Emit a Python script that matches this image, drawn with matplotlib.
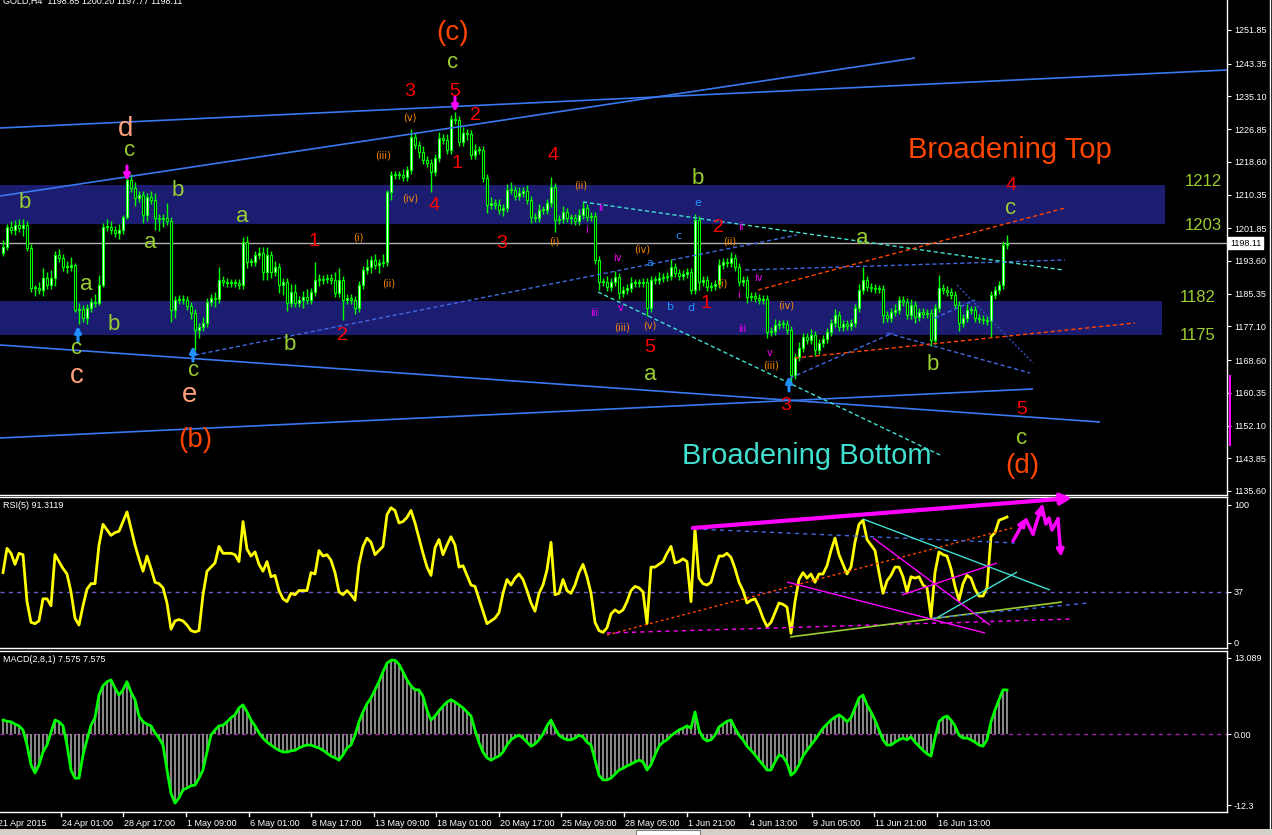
import matplotlib
matplotlib.use('Agg')
import matplotlib.pyplot as plt
from matplotlib.patches import Rectangle
from matplotlib.lines import Line2D
import matplotlib.transforms as mtransforms

# ---------------- data ----------------
first_open = 1195.6
closes = [
 1197.1, 1202.2, 1201.4, 1202.7, 1201.9, 1202.7, 1196.9, 1186.8, 1186.8, 1186.3,
 1189.3, 1187.5, 1189.3, 1195.1, 1194.4, 1192.1, 1192.1, 1192.6, 1181.2, 1181.5,
 1179.2, 1181.8, 1183.3, 1183.0, 1187.5, 1202.2, 1202.2, 1201.4, 1200.7, 1201.4,
 1204.7, 1214.0, 1212.0, 1209.5, 1210.2, 1205.2, 1209.7, 1209.0, 1204.4, 1204.2,
 1204.4, 1203.7, 1181.2, 1183.8, 1184.0, 1183.8, 1182.3, 1180.5, 1176.2, 1177.0,
 1178.0, 1183.3, 1184.3, 1184.0, 1188.8, 1188.3, 1188.1, 1188.1, 1188.1, 1187.5,
 1198.4, 1193.3, 1193.3, 1195.1, 1195.6, 1190.8, 1195.1, 1190.8, 1192.1, 1187.5,
 1188.3, 1183.0, 1185.8, 1183.0, 1183.8, 1184.5, 1183.8, 1185.8, 1188.8, 1188.8,
 1189.1, 1189.3, 1188.8, 1185.5, 1188.8, 1183.8, 1184.3, 1183.8, 1181.8, 1187.5,
 1191.3, 1192.1, 1193.9, 1192.6, 1193.1, 1193.3, 1211.0, 1215.3, 1215.3, 1215.3,
 1214.8, 1216.5, 1224.9, 1222.8, 1221.1, 1219.1, 1218.3, 1216.0, 1219.6, 1224.6,
 1224.1, 1221.6, 1229.4, 1229.1, 1223.6, 1225.9, 1225.6, 1220.3, 1221.6, 1221.6,
 1214.5, 1207.7, 1208.2, 1207.7, 1206.5, 1207.0, 1211.5, 1211.5, 1210.0, 1210.7,
 1211.3, 1209.0, 1204.7, 1204.4, 1206.5, 1206.5, 1208.2, 1212.3, 1203.9, 1204.2,
 1205.9, 1204.4, 1204.4, 1203.7, 1205.2, 1207.0, 1204.7, 1204.9, 1193.9, 1188.3,
 1188.3, 1187.0, 1188.3, 1189.6, 1185.5, 1186.3, 1186.8, 1188.1, 1188.1, 1188.1,
 1188.3, 1181.8, 1188.8, 1188.8, 1189.3, 1189.6, 1189.8, 1192.1, 1190.6, 1189.8,
 1190.3, 1190.8, 1186.3, 1203.9, 1188.3, 1188.8, 1187.0, 1187.3, 1187.8, 1192.6,
 1193.3, 1193.1, 1194.4, 1192.1, 1188.3, 1188.8, 1184.5, 1184.8, 1184.3, 1183.8,
 1184.0, 1175.7, 1175.9, 1177.5, 1177.7, 1177.7, 1176.2, 1164.9, 1169.4, 1171.7,
 1174.4, 1173.7, 1174.9, 1171.2, 1172.9, 1173.9, 1175.7, 1178.0, 1180.0, 1177.0,
 1177.7, 1177.2, 1178.0, 1181.8, 1186.3, 1188.8, 1187.0, 1186.8, 1186.5, 1186.5,
 1180.0, 1179.2, 1180.7, 1181.2, 1183.8, 1183.3, 1180.0, 1182.5, 1179.5, 1180.7,
 1180.2, 1180.5, 1173.7, 1181.8, 1186.8, 1186.3, 1185.8, 1185.0, 1182.5, 1178.0,
 1179.2, 1181.2, 1181.2, 1179.2, 1179.0, 1178.7, 1178.5, 1185.0, 1186.3, 1187.5,
 1197.6, 1198.11]
wick_up = [
 1.7, 0.8, 1.5, 1.2, 1.5, 1.5, 1.0, 1.0, 0.8, 1.5,
 2.5, 1.5, 2.0, 1.0, 1.5, 1.0, 1.5, 2.0, 0.5, 1.5,
 1.0, 1.0, 1.0, 2.0, 2.5, 1.0, 2.0, 1.5, 1.0, 1.5,
 0.5, 2.0, 1.5, 1.5, 1.0, 1.0, 1.0, 1.5, 1.8, 1.0,
 1.0, 3.8, 1.0, 1.0, 1.0, 1.0, 1.0, 1.0, 1.0, 1.0,
 1.5, 1.0, 1.0, 1.5, 3.3, 1.0, 1.0, 1.0, 1.0, 1.0,
 1.3, 1.5, 1.0, 1.0, 1.5, 1.5, 2.0, 1.0, 1.5, 1.0,
 1.0, 1.0, 2.0, 2.0, 1.0, 1.5, 2.0, 1.0, 4.5, 1.5,
 1.0, 1.0, 1.0, 2.0, 3.0, 1.0, 1.0, 1.0, 1.0, 1.0,
 1.0, 2.0, 1.0, 1.5, 1.0, 2.0, 0.5, 1.0, 1.0, 1.0,
 1.5, 1.0, 2.0, 1.0, 1.0, 1.5, 1.0, 1.0, 1.0, 1.5,
 1.0, 1.5, 1.0, 1.8, 1.0, 1.5, 1.0, 1.0, 1.5, 1.0,
 1.0, 1.0, 1.5, 1.0, 1.5, 1.0, 1.5, 2.0, 1.0, 1.5,
 1.0, 1.5, 1.0, 1.0, 1.5, 1.0, 1.0, 2.5, 1.0, 1.0,
 1.5, 1.0, 1.0, 1.0, 1.5, 1.5, 1.0, 1.0, 1.0, 1.0,
 1.0, 1.5, 1.0, 1.5, 1.0, 1.0, 1.0, 1.5, 1.0, 1.0,
 1.0, 1.0, 1.0, 1.0, 1.5, 1.0, 1.0, 2.0, 1.0, 1.0,
 1.0, 1.0, 1.0, 1.5, 1.0, 1.0, 1.0, 1.0, 1.0, 1.5,
 1.0, 1.0, 1.5, 1.0, 1.0, 1.0, 1.0, 1.0, 1.0, 1.0,
 1.0, 1.0, 1.0, 1.5, 1.0, 1.0, 1.0, 1.0, 1.0, 1.5,
 1.0, 1.0, 1.5, 1.0, 1.0, 1.0, 1.0, 1.0, 1.5, 1.0,
 1.0, 1.0, 1.0, 1.0, 1.5, 3.3, 1.0, 1.0, 1.0, 1.0,
 1.0, 1.0, 1.0, 1.5, 1.0, 1.0, 1.0, 1.5, 1.0, 1.0,
 1.0, 1.0, 1.0, 1.0, 3.3, 1.0, 1.0, 1.0, 1.0, 1.0,
 1.0, 1.5, 1.0, 1.0, 1.0, 1.0, 1.0, 1.0, 1.0, 1.0,
 1.0, 2.0]
wick_dn = [
 0.8, 0.8, 1.0, 1.2, 1.0, 2.0, 0.8, 1.0, 2.0, 1.0,
 1.5, 1.0, 1.0, 2.0, 1.0, 1.0, 1.5, 1.0, 0.5, 3.5,
 1.0, 1.5, 1.0, 1.0, 0.5, 0.5, 1.0, 1.0, 1.0, 1.5,
 1.0, 0.5, 1.0, 2.0, 1.0, 2.0, 1.5, 1.0, 3.0, 3.0,
 2.0, 1.0, 3.0, 2.0, 1.0, 1.0, 1.0, 1.5, 5.0, 2.0,
 1.0, 1.0, 1.0, 2.0, 1.0, 1.0, 1.0, 1.0, 1.0, 1.0,
 1.0, 1.5, 1.0, 1.0, 1.0, 2.0, 2.0, 1.5, 1.0, 2.0,
 2.5, 2.0, 1.0, 1.0, 1.0, 2.0, 1.0, 1.0, 1.0, 1.5,
 1.0, 1.0, 1.0, 1.0, 1.0, 5.0, 1.0, 1.0, 1.5, 1.0,
 1.0, 1.0, 1.5, 1.0, 2.0, 1.0, 1.0, 2.0, 1.0, 1.0,
 1.0, 1.0, 1.0, 1.0, 1.5, 1.0, 1.0, 5.0, 1.0, 1.0,
 1.0, 1.0, 1.0, 1.0, 1.0, 1.0, 1.5, 1.0, 1.0, 1.0,
 1.0, 2.0, 1.0, 1.0, 1.0, 1.5, 1.0, 1.0, 1.0, 1.0,
 1.0, 1.0, 1.5, 1.0, 1.0, 1.0, 1.0, 1.0, 3.0, 1.0,
 1.0, 1.0, 1.5, 1.0, 1.0, 1.0, 1.0, 1.0, 1.0, 2.0,
 1.0, 1.0, 1.0, 1.0, 1.5, 1.0, 1.0, 1.0, 1.0, 1.0,
 1.0, 2.0, 1.0, 1.0, 1.0, 1.0, 1.0, 1.0, 1.0, 1.0,
 1.0, 1.0, 1.0, 1.0, 2.0, 1.0, 1.0, 1.0, 1.0, 1.0,
 1.0, 1.0, 1.0, 1.0, 1.0, 1.0, 1.5, 1.0, 1.0, 1.0,
 1.0, 1.5, 1.0, 1.0, 1.0, 1.0, 1.0, 2.0, 1.0, 1.0,
 1.0, 1.0, 1.0, 1.5, 1.0, 1.0, 1.0, 1.0, 1.0, 1.0,
 1.0, 1.0, 1.0, 1.0, 1.0, 1.0, 1.0, 1.0, 1.0, 1.0,
 2.0, 1.0, 1.0, 1.0, 1.0, 1.0, 1.0, 1.0, 1.5, 1.0,
 1.0, 1.0, 1.5, 1.0, 1.0, 1.0, 1.0, 1.0, 1.0, 2.0,
 1.0, 1.0, 1.0, 1.0, 1.0, 1.0, 1.0, 4.0, 1.0, 1.0,
 1.0, 1.0]
rsi5 = [
 51, 68.6, 65, 57, 65, 64, 30, 15, 14, 16,
 32, 32, 27, 64, 59, 54, 50, 37, 18, 13,
 27, 39, 43, 43, 71, 86, 82, 78, 80, 81,
 88, 95, 83, 71, 61, 52, 63, 54, 44, 43,
 40, 29, 10, 16, 17, 16, 13, 9, 8, 9,
 35, 52, 55, 58, 70, 65, 65, 65, 64, 59,
 88, 68, 63, 66, 57, 52, 59, 48, 49, 38,
 32, 30, 36, 35, 38, 38, 38, 51, 50, 67,
 63, 64, 60, 51, 37, 35, 38, 35, 31, 57,
 70, 76, 73, 64, 67, 70, 93, 98, 96, 87,
 88, 91, 96, 87, 76, 65, 55, 49, 69, 75,
 64, 71, 77, 71, 55, 56, 49, 42, 41, 32,
 23, 14, 16, 18, 22, 36, 46, 42, 47, 50,
 46, 38, 29, 23, 36, 42, 53, 73, 35, 36,
 46, 38, 36, 42, 51, 57, 48, 36, 15, 9,
 7.7, 11, 21, 24, 22, 24, 30, 38, 41, 40,
 37, 14, 55, 55, 57, 59, 65, 70, 58, 59,
 61, 59, 30, 83, 47, 43, 42, 44, 54, 63,
 63, 65, 62, 54, 44, 38, 29, 31, 32, 26,
 18, 12, 15, 22, 29, 28, 26, 7, 30, 46,
 51, 47, 50, 44, 50, 50, 56, 67, 76, 64,
 57, 50, 55, 73, 86, 89, 75, 71, 67, 51,
 36, 45, 49, 55, 55, 48, 37, 48, 47, 48,
 42, 40, 19, 51, 66, 64, 63, 54, 41, 31,
 43, 49, 47, 39, 34, 34, 40, 77, 80, 89,
 90, 91.31]
macd = [
 2.4, 2.2, 2.1, 1.7, 1.4, 0.7, -1.9, -5.3, -6.7, -5.3,
 -3.1, -1.9, 0.3, 2.4, 2.1, 1.4, -1.9, -6.2, -7.6, -7.6,
 -3.6, -1.0, 1.5, 2.8, 6.7, 8.3, 9.0, 9.3, 7.9, 6.7,
 7.6, 9.0, 7.2, 5.9, 3.1, 2.1, 1.7, 1.4, 0.2, -0.7,
 -1.9, -6.2, -10.2, -11.9, -11.0, -9.6, -9.3, -8.9, -8.8, -7.6,
 -6.2, -3.1, -0.2, 0.7, 1.4, 1.5, 2.1, 2.8, 3.3, 4.5,
 5.0, 3.8, 2.4, 1.4, 0.2, -0.7, -1.4, -1.9, -2.4, -2.8,
 -3.1, -3.1, -2.9, -2.8, -2.4, -2.1, -1.9, -1.9, -2.2, -2.4,
 -2.8, -3.3, -3.8, -4.1, -4.5, -3.6, -2.4, -1.9, -0.2, 2.1,
 3.8, 5.2, 6.2, 7.6, 9.0, 10.7, 12.2, 12.7, 12.7, 12.0,
 10.7, 9.3, 8.3, 7.6, 7.6, 6.5, 4.1, 2.4, 3.1, 4.0,
 4.8, 5.5, 5.9, 5.5, 5.0, 4.5, 3.8, 3.1, 0.7, -1.5,
 -3.1, -4.1, -4.5, -4.1, -3.8, -3.1, -1.9, -1.0, -0.5, -0.2,
 -0.7, -1.4, -2.1, -1.7, -1.0, 0.0, 1.4, 2.4, 1.0, -0.2,
 -0.7, -1.0, -1.0, -0.7, -0.2, -0.5, -1.4, -1.9, -4.5, -7.1,
 -7.9, -7.9, -7.6, -6.9, -6.2, -5.9, -5.5, -5.2, -4.8, -4.5,
 -4.8, -6.2, -5.3, -3.6, -2.1, -1.4, -1.0, -0.3, 0.2, 0.7,
 1.0, 1.4, 1.0, 3.8, 0.7, -0.7, -1.2, -1.0, -0.2, 1.2,
 1.7, 2.2, 2.4, 1.0, -0.2, -1.0, -2.1, -2.8, -3.6, -4.5,
 -5.3, -6.2, -6.2, -4.8, -3.6, -3.9, -5.0, -7.1, -6.5, -5.3,
 -3.8, -2.8, -1.9, -1.0, 0.0, 1.0, 1.7, 2.4, 2.9, 3.3,
 2.8, 2.1, 2.8, 4.5, 6.2, 6.7, 5.0, 3.8, 2.4, 0.7,
 -1.0, -1.9, -1.9, -1.4, -1.0, -0.7, -1.0, -0.5, -1.4, -2.1,
 -2.8, -3.4, -3.8, -0.7, 2.1, 2.8, 3.1, 2.4, 1.4, -0.2,
 -0.7, -0.7, -1.0, -1.4, -1.9, -2.1, -1.0, 2.1, 4.1, 5.9,
 7.6, 7.575]
price_ticks = [1251.85, 1243.35, 1235.10, 1226.85, 1218.60, 1210.35, 1201.85,
               1193.60, 1185.35, 1177.10, 1168.60, 1160.35, 1152.10, 1143.85, 1135.60]
rsi_ticks = [100, 37, 0]
macd_ticks = [13.089, 0.0, -12.3]
macd_tick_labels = ['13.089', '0.00', '-12.3']
date_labels = ['21 Apr 2015', '24 Apr 01:00', '28 Apr 17:00', '1 May 09:00', '6 May 01:00',
               '8 May 17:00', '13 May 09:00', '18 May 01:00', '20 May 17:00', '25 May 09:00',
               '28 May 05:00', '1 Jun 21:00', '4 Jun 13:00', '9 Jun 05:00', '11 Jun 21:00',
               '16 Jun 13:00']
date_bars = [-1.5, 14.5, 30.1, 45.8, 61.4, 77.0, 92.7, 108.3, 124.0, 139.6,
             155.3, 170.9, 186.6, 202.2, 217.8, 233.5]
zones = [(1203.0, 1212.8), (1175.0, 1183.5)]
zone_texts = ['1212', '1203', '1182', '1175']
last_price = 1198.11

# ---------------- geometry helpers ----------------
FW, FH = 1272, 835
fig = plt.figure(figsize=(FW / 100, FH / 100), dpi=100, facecolor='black')

def bx(px):            # pixel x -> bar index
    return (px - 3) / 4.0

def P(x, y):           # main panel pixel -> (bar, price)
    return bx(x), 1259.4 - y / 3.966

def R(x, y):           # RSI panel pixel -> (bar, rsi)
    return bx(x), (643 - y) / 1.38

def fx(x):
    return x / FW

def fy(y):
    return 1 - y / FH

FONT = 'Liberation Sans'
SMALL = 6.5

AXR = 1227
ax = fig.add_axes([0, fy(495), AXR / FW, 495 / FH], facecolor='black')
ax_r = fig.add_axes([0, fy(648), AXR / FW, 151 / FH], facecolor='black')
ax_m = fig.add_axes([0, fy(812), AXR / FW, 161 / FH], facecolor='black')

for a in (ax, ax_r, ax_m):
    a.set_xlim(bx(0), bx(AXR))
    a.set_xticks([])
    a.yaxis.tick_right()
    a.tick_params(axis='y', colors='white', labelcolor='white', length=3, width=0.8,
                  labelsize=SMALL, pad=2)
    a.spines['left'].set_visible(False)
    for s in ('top', 'bottom', 'right'):
        a.spines[s].set_color('white')
        a.spines[s].set_linewidth(1)
ax.spines['top'].set_visible(False)

ax.set_ylim(P(0, 495)[1], P(0, 0)[1])
ax_r.set_ylim((643 - 648) / 1.38, (643 - 497) / 1.38)
ax_m.set_ylim((734 - 812) / 5.81, (734 - 651) / 5.81)

ax.set_yticks(price_ticks)
ax.set_yticklabels(['%.2f' % v for v in price_ticks])
ax_r.set_yticks(rsi_ticks)
ax_r.set_yticklabels([str(v) for v in rsi_ticks])
ax_m.set_yticks(macd_ticks)
ax_m.set_yticklabels(macd_tick_labels)
for a in (ax, ax_r, ax_m):
    for t in a.get_yticklabels():
        t.set_family(FONT)

RED = '#ff0000'
YG = '#9acd32'
SAL = '#ffa07a'
ORR = '#ff4500'
ORG = '#ff8c00'
MAG = '#ff00ff'
BLU = '#1e90ff'
LBLUE = '#3a78f0'
CYAN = '#40e0d0'

# ---------------- zones ----------------
zone_right = [1165, 1162]
for (lo, hi), xr in zip(zones, zone_right):
    ax.add_patch(Rectangle((bx(0), lo), bx(xr) - bx(0), hi - lo,
                           facecolor='#1c1c70', edgecolor='none', zorder=0))
zone_pos = [(1203, 182), (1203, 226), (1198, 298), (1198, 336)]
for t, (x, y) in zip(zone_texts, zone_pos):
    ax.text(*P(x, y), t, color=YG, fontsize=12, family=FONT, ha='center', va='center', zorder=6)

# current price line
ax.axhline(last_price, color='#b0b0b0', lw=1, zorder=1)

# ---------------- candles ----------------
opens = [first_open] + closes[:-1]
n = len(closes)
xs = list(range(n))
highs = [max(o, c) + u for o, c, u in zip(opens, closes, wick_up)]
lows = [min(o, c) - d for o, c, d in zip(opens, closes, wick_dn)]
ax.vlines(xs, lows, highs, color='#00ff00', lw=1, zorder=3)
bottoms = [min(o, c) for o, c in zip(opens, closes)]
heights = [max(abs(c - o), 0.25) for o, c in zip(opens, closes)]
cols = ['white' if c >= o else 'black' for o, c in zip(opens, closes)]
ax.bar(xs, heights, bottom=bottoms, width=0.72, color=cols, edgecolor='#00ff00',
       linewidth=0.8, zorder=4)

# ---------------- trend lines (main) ----------------
def seg(a, p0, p1, color, lw=1.0, ls='-', conv=P, z=5):
    (x0, y0), (x1, y1) = conv(*p0), conv(*p1)
    a.plot([x0, x1], [y0, y1], color=color, lw=lw, ls=ls, zorder=z, solid_capstyle='butt')

seg(ax, (0, 128), (1227, 70), LBLUE, 1.2)
seg(ax, (0, 196), (915, 58), LBLUE, 1.2)
seg(ax, (0, 345), (1100, 422), LBLUE, 1.2)
seg(ax, (0, 438), (1033, 389), LBLUE, 1.2)
seg(ax, (195, 355), (797, 235), '#4169e1', 1.0, (0, (3, 2)))
seg(ax, (745, 270), (1065, 260), '#4169e1', 1.0, (0, (3, 2)))
seg(ax, (790, 378), (893, 333), '#4169e1', 1.0, (0, (3, 2)))
seg(ax, (887, 333), (1030, 373), '#4169e1', 1.0, (0, (3, 2)))
seg(ax, (935, 318), (975, 300), '#4169e1', 1.0, (0, (3, 2)))
seg(ax, (957, 285), (1033, 363), '#3050c0', 1.0, (0, (1.5, 1.5)))
seg(ax, (583, 202), (1063, 270), CYAN, 1.0, (0, (3, 2)))
seg(ax, (598, 292), (940, 455), CYAN, 1.0, (0, (3, 2)))
seg(ax, (758, 290), (1065, 208), ORR, 1.0, (0, (3, 2)))
seg(ax, (795, 358), (1135, 323), ORR, 1.0, (0, (3, 2)))

# ---------------- arrows ----------------
def arrow(a, tip, tail, color, conv=P, lw=2.2, ms=9):
    a.annotate('', xy=conv(*tip), xytext=conv(*tail),
               arrowprops=dict(arrowstyle='-|>', color=color, lw=lw, mutation_scale=ms,
                               shrinkA=0, shrinkB=0), zorder=7)

arrow(ax, (78, 326), (78, 342), BLU)
arrow(ax, (193, 346), (193, 361), BLU)
arrow(ax, (789, 376), (789, 391), BLU)
arrow(ax, (127, 181), (127, 166), MAG)
arrow(ax, (455, 112), (455, 97), MAG)

# ---------------- wave labels ----------------
def lab(t, x, y, color, size, fam=FONT):
    ax.text(*P(x, y), t, color=color, fontsize=size, family=fam, ha='center', va='center',
            zorder=8)

for t, x, y in [('1', 314, 241), ('2', 342, 336), ('3', 410, 91), ('5', 455, 92),
                ('2', 475, 115), ('1', 457, 164), ('4', 434, 206), ('3', 502, 244),
                ('4', 553, 155), ('5', 650, 347), ('2', 718, 228), ('1', 706, 304),
                ('3', 786, 406), ('4', 1011, 186), ('5', 1022, 410)]:
    lab(t, x, y, RED, 14)

for t, x, y in [('b', 25, 202), ('c', 130, 151), ('b', 178, 191), ('a', 150, 242),
                ('a', 86, 285), ('b', 114, 325), ('c', 77, 349), ('c', 194, 371),
                ('a', 242, 217), ('b', 290, 345), ('c', 453, 63), ('b', 698, 179),
                ('a', 650, 374), ('a', 862, 238), ('b', 933, 365), ('c', 1011, 208),
                ('c', 1022, 438)]:
    lab(t, x, y, YG, 16)

for t, x, y in [('d', 126, 129), ('c', 77, 376), ('e', 190, 395)]:
    lab(t, x, y, SAL, 20)

for t, x, y in [('(c)', 453, 33), ('(b)', 195, 440), ('(d)', 1022, 466)]:
    lab(t, x, y, ORR, 20)

lab('Broadening Top', 1010, 150, ORR, 21)
lab('Broadening Bottom', 807, 456, CYAN, 21)

for t, x, y in [('(v)', 410, 118), ('(iii)', 383, 155), ('(iv)', 410, 199), ('(i)', 358, 238),
                ('(ii)', 389, 283), ('(ii)', 581, 186), ('(i)', 554, 242), ('(iv)', 642, 250),
                ('(iii)', 622, 327), ('(v)', 650, 326), ('(ii)', 730, 241), ('(i)', 722, 284),
                ('(iv)', 786, 306), ('(iii)', 771, 366)]:
    lab(t, x, y, ORG, 7, 'DejaVu Sans')

for t, x, y in [('i', 587, 230), ('ii', 601, 208), ('iii', 594, 313), ('iv', 617, 258),
                ('v', 621, 308), ('i', 738, 295), ('ii', 741, 227), ('iii', 742, 329),
                ('iv', 758, 278), ('v', 770, 353)]:
    lab(t, x, y, MAG, 7, 'DejaVu Sans')

for t, x, y in [('e', 698, 203), ('c', 678, 236), ('a', 650, 263), ('b', 670, 307),
                ('d', 691, 308)]:
    lab(t, x, y, BLU, 8, 'DejaVu Sans')

# price box
trans = mtransforms.blended_transform_factory(ax.transAxes, ax.transData)
ax.text(1.0 + 3 / AXR, last_price, '1198.11', transform=trans, color='black', fontsize=SMALL,
        family=FONT, ha='left', va='center', zorder=9, clip_on=False,
        bbox=dict(boxstyle='square,pad=0.2', facecolor='white', edgecolor='white'))

# ---------------- RSI panel ----------------
ax_r.axhline(37, color='#6a5acd', lw=1, ls=(0, (3, 3)), zorder=1)
ax_r.plot(xs, rsi5, color='yellow', lw=2.0, zorder=4, solid_joinstyle='round')

seg(ax_r, (607, 635), (1012, 528), ORR, 1.0, (0, (2, 2)), R)
seg(ax_r, (607, 633), (1073, 619), MAG, 1.0, (0, (3, 3)), R)
seg(ax_r, (695, 529), (1015, 543), '#4169e1', 1.0, (0, (3, 3)), R)
seg(ax_r, (863, 519), (1050, 590), CYAN, 1.0, '-', R)
seg(ax_r, (933, 620), (1017, 572), CYAN, 1.0, '-', R)
seg(ax_r, (790, 637), (1062, 602), YG, 1.2, '-', R)
seg(ax_r, (787, 582), (985, 633), MAG, 1.0, '-', R)
seg(ax_r, (873, 538), (990, 625), MAG, 1.0, '-', R)
seg(ax_r, (902, 595), (997, 563), MAG, 1.0, '-', R)
seg(ax_r, (933, 618), (1088, 603), '#4169e1', 1.0, (0, (3, 3)), R)

arrow(ax_r, (1072, 498), (693, 528), MAG, R, lw=3, ms=16)
arrow(ax_r, (1026, 518), (1013, 541), MAG, R, lw=2.5, ms=10)
xz, yz = zip(*[R(*p) for p in [(1026, 520), (1033, 534)]])
ax_r.plot(xz, yz, color=MAG, lw=2.5, zorder=7)
arrow(ax_r, (1042, 505), (1033, 534), MAG, R, lw=2.5, ms=10)
xz, yz = zip(*[R(*p) for p in [(1042, 507), (1046, 524), (1049, 518), (1052, 530), (1058, 519)]])
ax_r.plot(xz, yz, color=MAG, lw=2.5, zorder=7)
arrow(ax_r, (1061, 557), (1058, 519), MAG, R, lw=2.5, ms=10)

# ---------------- MACD panel ----------------
ax_m.bar(xs, macd, width=0.45, color='#858585', zorder=2)
ax_m.axhline(0, color='#a020a0', lw=1, ls=(0, (3, 3)), zorder=1)
ax_m.plot(xs, macd, color='#00ff00', lw=2.0, zorder=4, solid_joinstyle='round')

# ---------------- texts / frame ----------------
fig.text(fx(3), fy(1), 'GOLD,H4  1198.85 1200.20 1197.77 1198.11', color='white', fontsize=SMALL,
         va='center', ha='left', family=FONT)
fig.text(fx(3), fy(505), 'RSI(5) 91.3119', color='white', fontsize=SMALL, va='center', ha='left',
         family=FONT)
fig.text(fx(3), fy(659), 'MACD(2,8,1) 7.575 7.575', color='white', fontsize=SMALL, va='center',
         ha='left', family=FONT)

for lbl, b in zip(date_labels, date_bars):
    xp = 3 + 4 * b
    fig.add_artist(Line2D([fx(xp), fx(xp)], [fy(812), fy(816)], color='white', lw=1))
    fig.text(fx(xp + 1), fy(823), lbl, color='white', fontsize=SMALL, va='center', ha='left',
             family=FONT)

fig.add_artist(Line2D([fx(1229.5), fx(1229.5)], [fy(376), fy(445)], color=MAG, lw=1.5))
fig.add_artist(Line2D([fx(1270), fx(1270)], [fy(0), fy(829)], color='white', lw=1))
fig.add_artist(Rectangle((0, 0), 1, fy(829), transform=fig.transFigure, facecolor='#d4d0c8',
                         edgecolor='none'))
fig.add_artist(Rectangle((fx(636), 0), fx(64), fy(830), transform=fig.transFigure,
                         facecolor='white', edgecolor='#808080', lw=0.8))

fig.savefig('out.png', dpi=100, facecolor='black')
